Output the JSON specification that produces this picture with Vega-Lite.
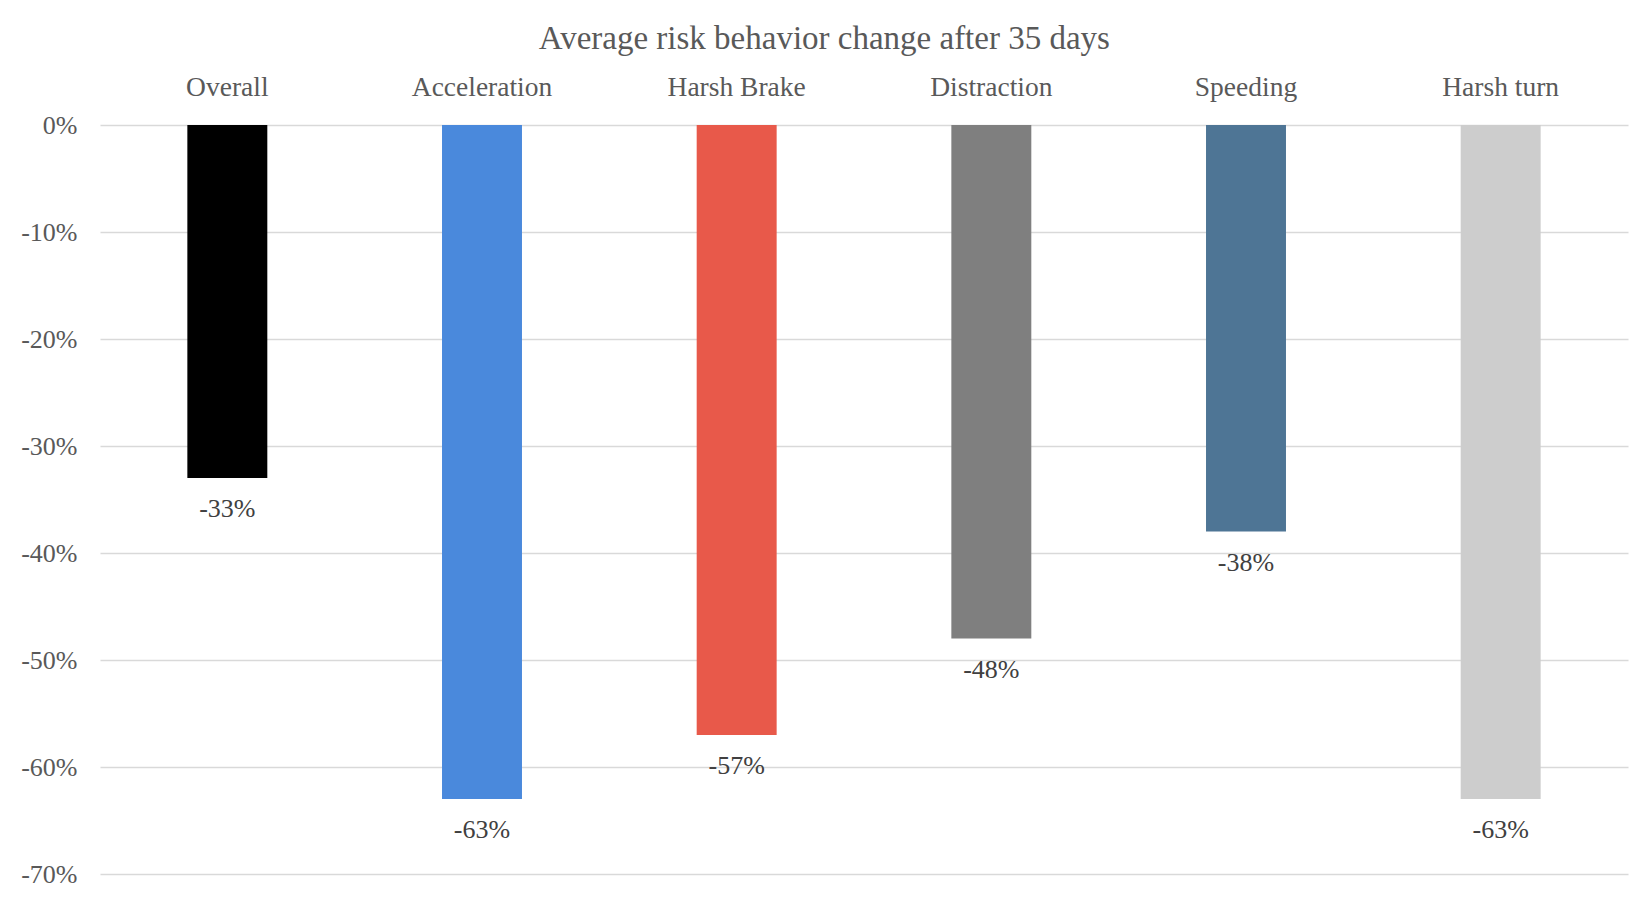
{
  "$schema": "https://vega.github.io/schema/vega-lite/v6.json",
  "width": 1528,
  "height": 749,
  "autosize": {"type": "none"},
  "padding": {"left": 100, "top": 125, "right": 21, "bottom": 25},
  "background": "white",
  "config": {
    "view": {"stroke": null},
    "font": "Liberation Serif"
  },
  "title": {
    "text": "Average risk behavior change after 35 days",
    "font": "Liberation Serif",
    "fontSize": 33,
    "fontWeight": "normal",
    "color": "#595959",
    "anchor": "middle",
    "frame": "bounds",
    "offset": 17
  },
  "data": {
    "values": [
      {"category": "Overall", "value": -0.33, "label": "-33%"},
      {"category": "Acceleration", "value": -0.63, "label": "-63%"},
      {"category": "Harsh Brake", "value": -0.57, "label": "-57%"},
      {"category": "Distraction", "value": -0.48, "label": "-48%"},
      {"category": "Speeding", "value": -0.38, "label": "-38%"},
      {"category": "Harsh turn", "value": -0.63, "label": "-63%"}
    ]
  },
  "encoding": {
    "x": {
      "field": "category",
      "type": "nominal",
      "sort": null,
      "scale": {"paddingInner": 0.686, "paddingOuter": 0.343},
      "axis": {
        "orient": "top",
        "title": null,
        "labelAngle": 0,
        "domain": false,
        "ticks": false,
        "tickSize": 0,
        "labelPadding": 24,
        "labelFont": "Liberation Serif",
        "labelFontSize": 27.5,
        "labelColor": "#595959"
      }
    },
    "y": {
      "field": "value",
      "type": "quantitative",
      "scale": {"domain": [-0.7, 0], "nice": false},
      "axis": {
        "title": null,
        "values": [0, -0.1, -0.2, -0.3, -0.4, -0.5, -0.6, -0.7],
        "labelExpr": "toString(round(datum.value * 100)) + '%'",
        "domain": false,
        "ticks": false,
        "tickSize": 0,
        "labelPadding": 23,
        "labelFont": "Liberation Serif",
        "labelFontSize": 26,
        "labelColor": "#595959",
        "grid": true,
        "gridColor": "#D9D9D9",
        "gridWidth": 1.5
      }
    }
  },
  "layer": [
    {
      "mark": {"type": "bar"},
      "encoding": {
        "color": {
          "field": "category",
          "type": "nominal",
          "legend": null,
          "scale": {
            "domain": ["Overall", "Acceleration", "Harsh Brake", "Distraction", "Speeding", "Harsh turn"],
            "range": ["#000000", "#4A89DC", "#E8594A", "#7F7F7F", "#4E7595", "#CDCDCD"]
          }
        }
      }
    },
    {
      "mark": {
        "type": "text",
        "dy": 31,
        "baseline": "middle",
        "align": "center",
        "font": "Liberation Serif",
        "fontSize": 26,
        "color": "#404040"
      },
      "encoding": {
        "text": {"field": "label"}
      }
    }
  ]
}
